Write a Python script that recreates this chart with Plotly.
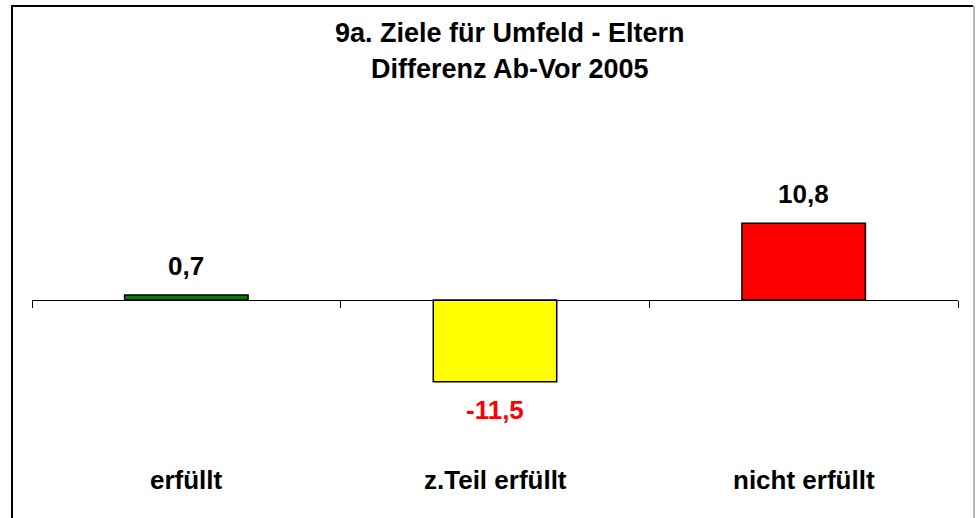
import plotly.graph_objects as go

categories = ["erfüllt", "z.Teil erfüllt", "nicht erfüllt"]
values = [0.7, -11.5, 10.8]
value_labels = ["0,7", "-11,5", "10,8"]
bar_colors = ["#008000", "#FFFF00", "#FF0000"]
label_colors = ["#000000", "#FF0000", "#000000"]
title_lines = ["9a. Ziele für Umfeld - Eltern", "Differenz Ab-Vor 2005"]

FONT = "Liberation Sans, Arial, sans-serif"

L, R, T, B = 32, 958, 100, 460
W, H = 976, 518
pw, ph = R - L, B - T

def px(x):
    return (x - L) / pw

def py(y):
    return (B - y) / ph

xs = list(range(len(categories)))

fig = go.Figure()
fig.add_trace(go.Bar(
    x=xs, y=values, width=0.4,
    marker=dict(color=bar_colors, line=dict(color="#000000", width=1.5)),
    hoverinfo="skip",
))

annotations = []
for i, (v, lab, c) in enumerate(zip(values, value_labels, label_colors)):
    annotations.append(dict(
        x=i, y=v, xref="x", yref="y", text=f"<b>{lab}</b>", showarrow=False,
        font=dict(family=FONT, size=26, color=c),
        yshift=29 if v >= 0 else -28, yanchor="middle",
    ))
for i, cat in enumerate(categories):
    annotations.append(dict(
        x=i, y=py(480), xref="x", yref="paper", text=f"<b>{cat}</b>", showarrow=False,
        font=dict(family=FONT, size=26, color="#000000"), yanchor="middle",
    ))
for j, (t, yy) in enumerate(zip(title_lines, [33, 69])):
    annotations.append(dict(
        x=px(510), y=py(yy), xref="paper", yref="paper", text=f"<b>{t}</b>", showarrow=False,
        font=dict(family=FONT, size=27, color="#000000"), yanchor="middle", xanchor="center",
    ))

shapes = [
    dict(type="path", xref="paper", yref="paper",
         path=f"M {px(12)},{py(540)} L {px(12)},{py(6)} L {px(973)},{py(6)}",
         line=dict(color="#000000", width=2)),
    dict(type="line", xref="paper", yref="paper",
         x0=px(974), x1=px(974), y0=py(6), y1=py(540),
         line=dict(color="#A0A0A0", width=1.5)),
]

ppu = 7.1
y_top = (300 - T) / ppu
y_bot = -(B - 300) / ppu

fig.update_layout(
    width=W, height=H,
    margin=dict(l=L, r=W - R, t=T, b=H - B, pad=0),
    paper_bgcolor="white", plot_bgcolor="white",
    showlegend=False,
    annotations=annotations,
    shapes=shapes,
    bargap=0,
    xaxis=dict(
        range=[-0.5, 2.5], anchor="free", position=py(300),
        showline=True, linecolor="#000000", linewidth=1,
        ticks="outside", tickvals=[-0.5, 0.5, 1.5, 2.5], ticklen=7, tickcolor="#000000", tickwidth=1,
        showticklabels=False, showgrid=False, zeroline=False, fixedrange=True,
    ),
    yaxis=dict(
        range=[y_bot, y_top], visible=False, showgrid=False, zeroline=False, fixedrange=True,
    ),
)

fig.write_html(
    "out.html",
    config={"displayModeBar": False, "staticPlot": True},
    post_script="document.body.style.margin='0';document.body.style.padding='0';",
)
